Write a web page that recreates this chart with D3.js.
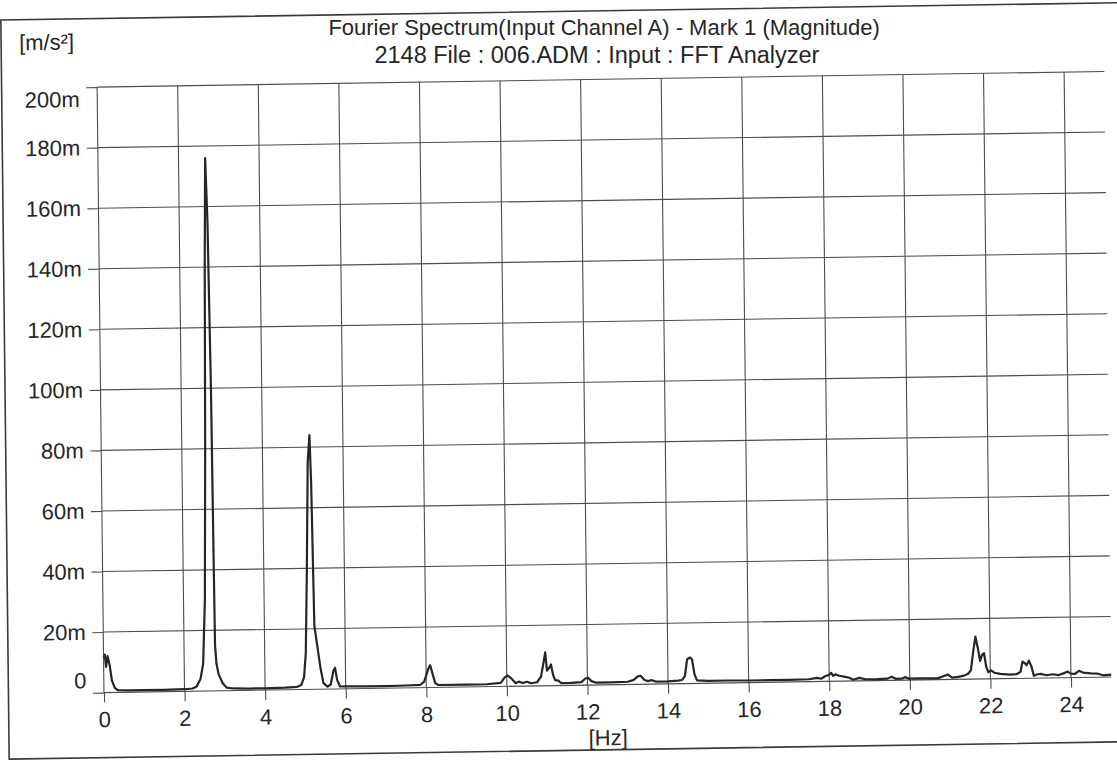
<!DOCTYPE html>
<html>
<head>
<meta charset="utf-8">
<script src="https://cdn.jsdelivr.net/npm/d3@7"></script>
<style>
  html, body { margin: 0; padding: 0; background: #ffffff; }
  svg { display: block; }
  text { font-family: "Liberation Sans", Arial, sans-serif; fill: #262626; }
</style>
</head>
<body>
<svg id="chart" width="1117" height="760"></svg>
<script>
// ---- data ----
const titleLines = [
  "Fourier Spectrum(Input Channel A) - Mark 1 (Magnitude)",
  "2148 File : 006.ADM : Input : FFT Analyzer"
];
const yUnit = "[m/s²]";
const xUnit = "[Hz]";
const xTicks = [0, 2, 4, 6, 8, 10, 12, 14, 16, 18, 20, 22, 24];
const xTickLabels = ["0", "2", "4", "6", "8", "10", "12", "14", "16", "18", "20", "22", "24"];
const yTicks = [0, 20, 40, 60, 80, 100, 120, 140, 160, 180, 200];
const yTickLabels = ["0", "20m", "40m", "60m", "80m", "100m", "120m", "140m", "160m", "180m", "200m"];

// frequency [Hz]
const freq = [
  0.00, 0.03, 0.06, 0.10, 0.15, 0.20, 0.27, 0.35, 0.60, 1.00, 1.50, 2.00,
  2.20, 2.30, 2.40, 2.47, 2.53, 2.58, 2.62, 2.66, 2.70, 2.74, 2.76, 2.77,
  2.80, 2.85, 2.95, 3.05, 3.20, 3.60, 4.00, 4.50, 4.80, 4.90, 4.97, 5.02,
  5.07, 5.12, 5.17, 5.20, 5.24, 5.30, 5.38, 5.45, 5.55, 5.63, 5.70, 5.74,
  5.79, 5.86, 6.00, 6.50, 7.00, 7.50, 7.85, 7.95, 8.05, 8.10, 8.15, 8.22,
  8.30, 9.00, 9.50, 9.85, 9.95, 10.02, 10.12, 10.22, 10.30, 10.40, 10.50, 10.60,
  10.75, 10.85, 10.92, 10.96, 11.00, 11.06, 11.10, 11.15, 11.20, 11.28, 11.35, 11.60,
  11.85, 11.95, 12.02, 12.10, 12.20, 12.60, 13.00, 13.15, 13.25, 13.32, 13.42, 13.50,
  13.60, 13.70, 14.00, 14.25, 14.35, 14.42, 14.48, 14.55, 14.60, 14.66, 14.72, 15.00,
  15.50, 16.00, 16.50, 17.00, 17.50, 17.70, 17.80, 17.90, 18.00, 18.05, 18.10, 18.15,
  18.25, 18.40, 18.50, 18.60, 18.75, 18.90, 19.20, 19.45, 19.55, 19.65, 19.80, 19.88,
  19.98, 20.30, 20.70, 20.85, 20.95, 21.05, 21.20, 21.35, 21.45, 21.52, 21.58, 21.64,
  21.70, 21.75, 21.80, 21.85, 21.90, 21.95, 22.02, 22.10, 22.25, 22.50, 22.65, 22.75,
  22.80, 22.86, 22.90, 22.96, 23.02, 23.08, 23.15, 23.25, 23.40, 23.55, 23.70, 23.85,
  23.92, 24.00, 24.10, 24.20, 24.30, 24.50, 24.65, 24.80, 25.00
];
// magnitude [m m/s²]
const magnitude = [
  11.5, 12.5, 8.5, 12.0, 9.0, 4.0, 1.5, 0.7, 0.6, 0.6, 0.6, 0.7,
  0.9, 1.5, 4.0, 9.0, 30, 80, 140, 176, 155, 100, 40, 15,
  9.0, 5.5, 2.5, 1.0, 0.7, 0.6, 0.6, 0.7, 0.9, 1.5, 4.0, 12,
  40, 75, 84, 68, 21, 15, 7.0, 2.0, 0.8, 1.5, 6.0, 7.0,
  3.0, 0.8, 0.8, 0.7, 0.7, 0.8, 0.9, 2.0, 6.0, 7.4, 5.0, 1.5,
  0.8, 0.8, 0.8, 1.2, 3.0, 3.6, 2.5, 1.0, 1.5, 1.0, 1.4, 0.9,
  1.2, 3.0, 8.0, 11.0, 5.0, 6.0, 7.0, 3.5, 1.8, 1.6, 0.8, 0.8,
  1.0, 2.2, 2.4, 1.3, 0.8, 0.8, 0.9, 1.5, 2.6, 2.8, 1.4, 1.0,
  1.3, 0.8, 0.8, 1.0, 1.2, 2.5, 8.0, 8.6, 8.0, 3.0, 1.0, 0.8,
  0.8, 0.7, 0.7, 0.7, 0.8, 1.2, 0.9, 1.7, 2.2, 2.8, 1.8, 2.3,
  1.8, 1.4, 1.1, 0.4, 1.0, 0.5, 0.5, 0.6, 1.2, 0.5, 0.5, 1.0,
  0.5, 0.5, 0.5, 1.2, 1.6, 0.6, 0.8, 1.2, 1.8, 3.0, 9.0, 14,
  10, 6.0, 8.0, 8.5, 4.0, 2.2, 2.8, 2.0, 1.6, 1.3, 1.4, 2.2,
  5.5, 5.0, 4.3, 5.8, 4.0, 0.8, 1.2, 1.4, 0.9, 1.2, 0.9, 1.6,
  2.0, 1.3, 1.2, 2.2, 1.6, 1.3, 1.2, 0.6, 0.8
];

// ---- layout ----
const W = 1117, H = 760;
const plot = { left: 100.5, right: 1107.8, top: 80, bottom: 685.5 };
const fontSize = 22;
// the scanned sheet is slightly skewed; reproduce the tilt
const M = { a: 1, b: -0.0155, c: 0.0113, d: 1, e: -4.294, f: 8.649 };
const tx = (px, py) => [M.a * px + M.c * py + M.e, M.b * px + M.d * py + M.f];

const svg = d3.select("#chart");
svg.append("rect").attr("width", W).attr("height", H).attr("fill", "#ffffff");

const g = svg.append("g")
  .attr("transform", `matrix(${M.a},${M.b},${M.c},${M.d},${M.e},${M.f})`);

const x = d3.scaleLinear().domain([0, 25]).range([plot.left, plot.right]);
const y = d3.scaleLinear().domain([0, 200]).range([plot.bottom, plot.top]);

// outer frame
g.append("rect")
  .attr("x", 5).attr("y", 11.5)
  .attr("width", 1120).attr("height", 739)
  .attr("fill", "none").attr("stroke", "#3a3a3a").attr("stroke-width", 1.6);

// grid
const grid = g.append("g").attr("class", "grid");
grid.selectAll("line.h").data(yTicks).join("line")
  .attr("class", "h")
  .attr("x1", x(0)).attr("x2", x(25))
  .attr("y1", d => y(d)).attr("y2", d => y(d))
  .attr("stroke", "#4d4d4d").attr("stroke-width", 1.1);
grid.selectAll("line.v").data(xTicks).join("line")
  .attr("class", "v")
  .attr("x1", d => x(d)).attr("x2", d => x(d))
  .attr("y1", y(200)).attr("y2", y(0))
  .attr("stroke", "#4d4d4d").attr("stroke-width", 1.1);

// y axis
const yAxis = g.append("g")
  .attr("transform", `translate(${x(0)},0)`)
  .call(d3.axisLeft(y).tickValues(yTicks)
    .tickFormat((d, i) => yTickLabels[i])
    .tickSize(11).tickPadding(6.5));
yAxis.select(".domain").remove();
yAxis.selectAll(".tick line").attr("stroke", "#4d4d4d").attr("stroke-width", 1.1);
yAxis.selectAll(".tick text")
  .attr("font-size", fontSize)
  .attr("font-family", "Liberation Sans, Arial, sans-serif")
  .attr("fill", "#262626")
  .attr("y", d => d === 200 ? 12 : (d === 0 ? -12 : 0));

// x axis
const xAxis = g.append("g")
  .attr("transform", `translate(0,${y(0)})`)
  .call(d3.axisBottom(x).tickValues(xTicks)
    .tickFormat((d, i) => xTickLabels[i])
    .tickSize(10).tickPadding(8));
xAxis.select(".domain").remove();
xAxis.selectAll(".tick line").attr("stroke", "#4d4d4d").attr("stroke-width", 1.1);
xAxis.selectAll(".tick text")
  .attr("font-size", fontSize)
  .attr("font-family", "Liberation Sans, Arial, sans-serif")
  .attr("fill", "#262626")
  .attr("y", 34.5).attr("dy", 0);

// spectrum line
const pts = freq.map((f, i) => [f, magnitude[i]]);
g.append("path")
  .datum(pts)
  .attr("fill", "none")
  .attr("stroke", "#262626")
  .attr("stroke-width", 2.2)
  .attr("stroke-linejoin", "round")
  .attr("d", d3.line().x(d => x(d[0])).y(d => y(d[1])));

// units
g.append("text")
  .attr("x", 23).attr("y", 42)
  .attr("font-size", fontSize)
  .text(yUnit);

g.append("text")
  .attr("x", (plot.left + plot.right) / 2).attr("y", 746)
  .attr("text-anchor", "middle")
  .attr("font-size", fontSize)
  .text(xUnit);

// titles (placed at the tilted position, kept level so the lines stay apart)
const titleAnchors = [tx(608, 35.5), tx(600.5, 63.5)];
const titleSizes = [22, 23.5];
svg.selectAll("text.title").data(titleLines).join("text")
  .attr("class", "title")
  .attr("x", (d, i) => titleAnchors[i][0])
  .attr("y", (d, i) => titleAnchors[i][1])
  .attr("text-anchor", "middle")
  .attr("font-size", (d, i) => titleSizes[i])
  .text(d => d);
</script>
</body>
</html>
